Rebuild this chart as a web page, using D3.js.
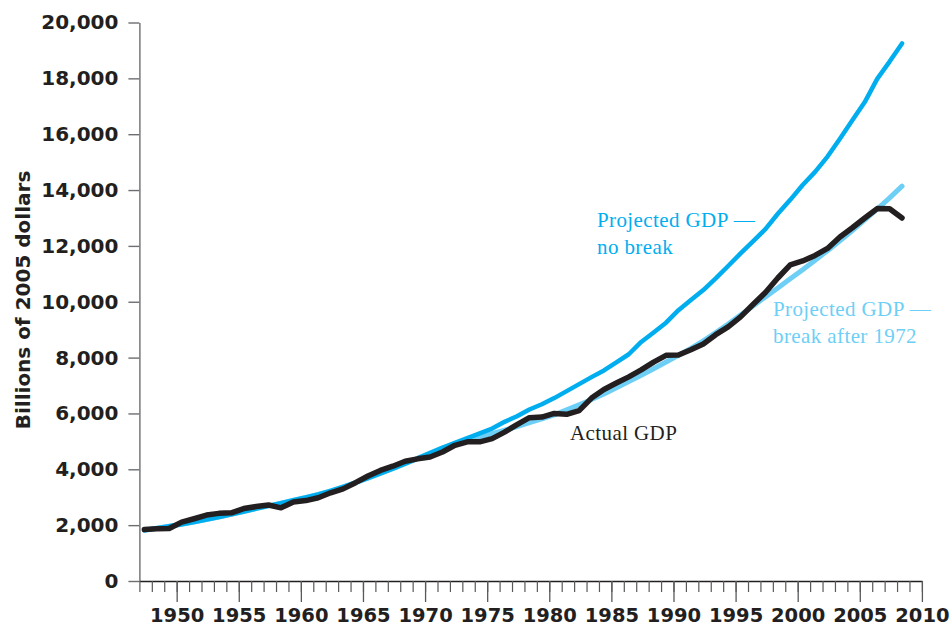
<!DOCTYPE html>
<html>
<head>
<meta charset="utf-8">
<script src="https://cdn.jsdelivr.net/npm/d3@7"></script>
<style>
  html, body { margin: 0; padding: 0; background: #ffffff; }
  svg { display: block; }
</style>
</head>
<body>
<svg id="chart" width="951" height="628"></svg>
<script>
// ---- Data (billions of 2005 dollars), annual, 1947-2008 ----
const years = d3.range(1947, 2009);
const actualGDP = [1845,1870,1880,2110,2230,2360,2422,2440,2595,2665,2720,2620,2830,2880,2980,3160,3300,3520,3760,3960,4110,4290,4375,4440,4620,4860,4984,4984,5100,5330,5600,5850,5870,6000,5970,6100,6550,6860,7090,7310,7560,7840,8080,8090,8280,8490,8820,9100,9460,9900,10330,10850,11320,11460,11660,11910,12320,12650,13000,13335,13330,13000];
const projectedNoBreak = [1820,1890,1960,2030,2110,2200,2290,2390,2490,2590,2690,2790,2890,2990,3100,3230,3370,3520,3680,3850,4020,4200,4390,4580,4770,4950,5120,5290,5460,5700,5900,6140,6330,6550,6800,7050,7300,7540,7830,8120,8560,8900,9250,9700,10060,10420,10840,11280,11730,12160,12600,13150,13650,14180,14650,15200,15840,16500,17150,17980,18600,19250];
const projectedBreak1972 = [1820,1890,1960,2030,2110,2200,2290,2390,2490,2590,2690,2790,2890,2990,3100,3230,3370,3520,3680,3850,4020,4200,4390,4580,4770,4920,5040,5160,5280,5400,5530,5670,5810,5950,6130,6310,6500,6700,6920,7140,7370,7600,7840,8080,8330,8600,8900,9200,9520,9850,10170,10490,10820,11150,11490,11830,12180,12550,12930,13320,13720,14140];

const yTicks = [0,2000,4000,6000,8000,10000,12000,14000,16000,18000,20000];
const xMajorTicks = [1950,1955,1960,1965,1970,1975,1980,1985,1990,1995,2000,2005,2010];
const xMinorTicks = d3.range(1947, 2011);
const yTitle = "Billions of 2005 dollars";

const labels = [
  { lines: ["Projected GDP \u2014", "no break"], x: 597, y: 227, color: "#00aeef" },
  { lines: ["Projected GDP \u2014", "break after 1972"], x: 773, y: 316, color: "#6dcff6" },
  { lines: ["Actual GDP"], x: 570, y: 440, color: "#231f20" }
];

// annual values plotted slightly inside each year interval
const plotShift = 0.4;

// ---- Chart ----
const svg = d3.select("#chart");
const x = d3.scaleLinear().domain([1947, 2010]).range([139.4, 921.9]);
const y = d3.scaleLinear().domain([0, 20000]).range([581, 22.5]);

const tickFont = "'DejaVu Sans', sans-serif";

// Y axis
const yAxis = svg.append("g")
  .attr("transform", "translate(139.4,0)")
  .call(d3.axisLeft(y).tickValues(yTicks).tickSize(11).tickSizeOuter(0).tickPadding(10).tickFormat(d3.format(",")));
yAxis.select(".domain").attr("stroke", "#6d6e71").attr("stroke-width", 1.4);
yAxis.selectAll(".tick line").attr("stroke", "#6d6e71").attr("stroke-width", 1.4);
yAxis.selectAll(".tick text")
  .attr("font-family", tickFont).attr("font-weight", "bold").attr("font-size", 20)
  .attr("fill", "#231f20");

// X axis minor ticks
const xMinor = svg.append("g")
  .attr("transform", "translate(0,581)")
  .call(d3.axisBottom(x).tickValues(xMinorTicks).tickSize(11).tickSizeOuter(0).tickFormat(""));
xMinor.select(".domain").attr("stroke", "#231f20").attr("stroke-width", 1.4);
xMinor.selectAll(".tick line").attr("stroke", "#58595b").attr("stroke-width", 1.2);

// X axis major ticks + labels
const xMajor = svg.append("g")
  .attr("transform", "translate(0,581)")
  .call(d3.axisBottom(x).tickValues(xMajorTicks).tickSize(21).tickSizeOuter(0).tickPadding(6).tickFormat(d3.format("d")));
xMajor.select(".domain").remove();
xMajor.selectAll(".tick line").attr("stroke", "#58595b").attr("stroke-width", 1.3);
xMajor.selectAll(".tick text")
  .attr("font-family", tickFont).attr("font-weight", "bold").attr("font-size", 19.5)
  .attr("fill", "#231f20");

// Y title
svg.append("text")
  .attr("transform", "translate(30,300) rotate(-90)")
  .attr("text-anchor", "middle")
  .attr("font-family", tickFont).attr("font-weight", "bold").attr("font-size", 20)
  .attr("fill", "#231f20")
  .text(yTitle);

// Lines
const line = d3.line()
  .x((d, i) => x(years[i] + plotShift))
  .y(d => y(d));

const series = [
  { values: projectedBreak1972, color: "#6dcff6", width: 5 },
  { values: projectedNoBreak, color: "#00aeef", width: 4.5 },
  { values: actualGDP, color: "#231f20", width: 5.5 }
];
svg.append("g").selectAll("path")
  .data(series).join("path")
  .attr("d", d => line(d.values))
  .attr("fill", "none")
  .attr("stroke", d => d.color)
  .attr("stroke-width", d => d.width)
  .attr("stroke-linejoin", "round")
  .attr("stroke-linecap", "round");

// Annotations
labels.forEach(l => {
  const t = svg.append("text")
    .attr("font-family", "'Liberation Serif', 'Times New Roman', serif")
    .attr("font-size", 21)
    .attr("letter-spacing", 0.4)
    .attr("fill", l.color);
  l.lines.forEach((s, i) => {
    t.append("tspan").attr("x", l.x).attr("y", l.y + i * 26.5).text(s);
  });
});
</script>
</body>
</html>
